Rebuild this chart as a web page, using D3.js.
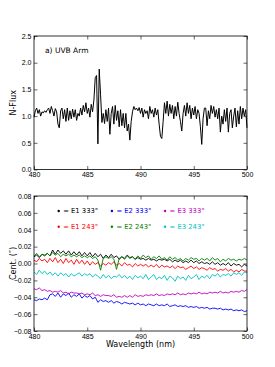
<!DOCTYPE html>
<html>
<head>
<meta charset="utf-8">
<script src="https://cdn.jsdelivr.net/npm/d3@7"></script>
<style>
  body { margin: 0; background: #fff; }
  svg { font-family: "DejaVu Sans", sans-serif; }
  .axis path { stroke: #000; stroke-width: 0.8; }
  .axis line { stroke: #000; stroke-width: 0.6; }
  .axis text { font-size: 7px; fill: #000; }
</style>
</head>
<body>
<script>
// wavelength grid (nm)
const waveFlux = d3.range(161).map(i => 480 + i * 0.125);
const waveCent = d3.range(81).map(i => 480 + i * 0.25);

// panel a) normalised flux
const flux = [
  0.98, 1.1, 1.15, 1.05, 1.12, 1.0, 1.08, 1.06,
  1.1, 1.07, 1.12, 1.15, 1.05, 1.18, 1.1, 1.0,
  1.14, 1.08, 0.85, 0.78, 1.1, 1.15, 0.95, 1.12,
  0.9, 1.15, 0.92, 1.1, 0.95, 1.13, 0.98, 1.12,
  0.92, 1.05, 1.0, 1.15, 1.02, 1.2, 1.08, 1.25,
  1.05, 1.15, 0.98, 1.22, 1.08, 1.3, 1.72, 1.76,
  0.48, 1.88, 1.4, 0.88, 1.05, 0.86, 1.12, 0.9,
  1.15, 0.66, 1.05, 1.18, 0.85, 1.2, 0.92, 1.1,
  0.8, 1.12, 0.82, 1.05, 0.78, 1.05, 0.72, 0.85,
  0.55, 0.9, 1.08, 1.18, 1.12, 1.15, 1.1, 1.16,
  1.05, 1.15, 0.98, 1.12, 1.05, 1.1, 0.95, 1.18,
  1.05, 1.12, 0.98, 1.15, 1.02, 1.12, 0.85, 0.62,
  0.58, 0.9, 1.25, 1.05, 1.28, 1.0, 1.22, 1.05,
  1.2, 0.95, 1.18, 1.0, 1.26, 1.05, 0.9, 0.72,
  1.05, 1.2, 1.0, 1.25, 1.05, 1.2, 0.95, 1.15,
  1.02, 1.18, 0.95, 1.12, 1.05, 0.8, 0.47, 0.95,
  1.15, 1.15, 0.82, 1.1, 0.95, 1.2, 1.05, 1.18,
  0.98, 1.12, 0.95, 1.15, 0.7, 1.0, 0.85, 1.12,
  0.9, 1.15, 0.7, 1.05, 1.12, 0.78, 1.0, 1.15,
  0.8, 1.1, 0.85, 1.18, 0.95, 1.15, 1.0, 1.12,
  0.78
];

// panel b) centroid offsets, in units of 0.001 arcsec
const e1_333 = [
  8, 10, 7, 11, 9, 12, 9, 16, 11, 16, 12, 15, 11, 15, 10, 14,
  10, 14, 9, 13, 9, 13, 8, 12, 8, 11, 6, 10, 7, 11, 7, 9,
  5, 8, 6, 10, 7, 8, 5, 7, 5, 6, 4, 6, 4, 5, 3, 5,
  4, 5, 3, 5, 2, 4, 2, 4, 1, 3, 1, 4, 1, 3, 0, 2,
  0, 1, -1, 2, -1, 1, -2, 0, -2, 1, -3, 0, -2, -1, -4, -1,
  -3
];
const e2_333 = [
  -43, -44, -42, -43, -41, -43, -37, -36, -39, -35, -40, -36, -38, -35, -40, -37,
  -39, -36, -41, -38, -40, -38, -42, -40, -46, -43, -45, -44, -46, -44, -47, -45,
  -46, -48, -46, -47, -48, -47, -49, -47, -49, -48, -50, -48, -49, -50, -48, -50,
  -49, -50, -48, -51, -50, -49, -51, -50, -51, -50, -52, -51, -52, -51, -53, -52,
  -53, -52, -54, -53, -53, -54, -53, -55, -54, -55, -54, -56, -55, -56, -55, -57,
  -56
];
const e3_333 = [
  -30, -31, -29, -32, -31, -33, -32, -34, -33, -34, -32, -35, -34, -36, -34, -35,
  -35, -36, -35, -37, -36, -37, -35, -38, -37, -39, -37, -38, -38, -39, -37, -40,
  -39, -40, -38, -40, -38, -40, -37, -39, -38, -39, -37, -38, -37, -38, -36, -38,
  -37, -38, -36, -37, -36, -37, -35, -37, -36, -37, -35, -36, -35, -36, -34, -36,
  -35, -36, -34, -35, -34, -35, -33, -35, -34, -35, -33, -34, -33, -34, -32, -33,
  -31
];
const e1_243 = [
  4, 2, 6, 3, 5, 1, 6, 2, 7, 1, 5, 0, 6, 1, 4, -1,
  5, 0, 4, -1, 3, -2, 2, -1, 1, -3, 0, -2, 1, -1, 2, -2,
  0, -3, 1, -2, -1, -4, 0, -3, -1, -3, -1, -4, -2, -4, -1, -5,
  -2, -4, -3, -5, -3, -6, -3, -5, -4, -7, -5, -3, -6, -4, -7, -5,
  -6, -8, -5, -7, -6, -9, -7, -8, -6, -9, -7, -10, -8, -10, -7, -9,
  -9
];
const e2_243 = [
  9, 12, 8, 11, 10, 12, 9, 13, 10, 12, 8, 11, 9, 11, 8, 10,
  8, 10, 7, 9, 7, 9, 6, 8, 4, -8, 6, 8, 6, 8, 5, -7,
  6, 8, 5, 9, 6, 8, 5, 9, 6, 10, 7, 9, 5, 8, 6, 9,
  5, 7, 4, 8, 5, 7, 4, 6, 3, 6, 4, 7, 5, 6, 3, 6,
  4, 6, 3, 7, 4, 6, 2, 5, 3, 6, 4, 5, 3, 5, 4, 6,
  4
];
const e3_243 = [
  -10, -13, -8, -12, -9, -13, -10, -14, -11, -15, -11, -14, -12, -16, -12, -15,
  -13, -11, -15, -12, -14, -12, -16, -13, -15, -18, -13, -17, -14, -18, -15, -16,
  -13, -17, -14, -18, -15, -19, -14, -17, -15, -18, -13, -19, -16, -13, -19, -16,
  -18, -14, -20, -15, -17, -21, -15, -18, -16, -20, -14, -18, -16, -13, -19, -15,
  -17, -14, -18, -13, -15, -12, -16, -13, -14, -12, -15, -11, -13, -11, -14, -10,
  -11
];

const seriesNames = ["E1 333°", "E2 333°", "E3 333°", "E1 243°", "E2 243°", "E3 243°"];
const seriesData = [e1_333, e2_333, e3_333, e1_243, e2_243, e3_243];
const seriesColors = ["#000000", "#0000ff", "#bf00bf", "#ff0000", "#008000", "#00bfbf"];

const width = 275, height = 367;
const left = 34, right = 247;

const svg = d3.select("body").append("svg")
  .attr("width", width)
  .attr("height", height);

const x = d3.scaleLinear().domain([480, 500]).range([left, right]);
const yFlux = d3.scaleLinear().domain([0, 2.5]).range([169.5, 36]);
const yCent = d3.scaleLinear().domain([-0.08, 0.08]).range([331, 196]);

const fmt2 = d3.format(".2f");
const fmtCent = d => fmt2(d).replace("-", "\u2212");

function drawAxes(y, yTicks, yFmt, top, bottom) {
  const g = svg.append("g");
  g.append("g").attr("class", "axis")
    .attr("transform", `translate(0,${bottom})`)
    .call(d3.axisBottom(x).tickValues(d3.range(480, 501, 5)).tickSize(-3.5).tickPadding(3).tickFormat(d3.format("d")))
    .call(a => a.select(".domain").remove());
  g.append("g").attr("class", "axis")
    .attr("transform", `translate(0,${top})`)
    .call(d3.axisTop(x).tickValues(d3.range(480, 501, 5)).tickSize(-3.5).tickFormat(""))
    .call(a => a.select(".domain").remove());
  g.append("g").attr("class", "axis")
    .attr("transform", `translate(${left},0)`)
    .call(d3.axisLeft(y).tickValues(yTicks).tickSize(-3.5).tickPadding(2.5).tickFormat(yFmt))
    .call(a => a.select(".domain").remove());
  g.append("g").attr("class", "axis")
    .attr("transform", `translate(${right},0)`)
    .call(d3.axisRight(y).tickValues(yTicks).tickSize(-3.5).tickFormat(""))
    .call(a => a.select(".domain").remove());
  svg.append("rect")
    .attr("x", left).attr("y", top)
    .attr("width", right - left).attr("height", bottom - top)
    .attr("fill", "none").attr("stroke", "#000").attr("stroke-width", 0.8);
}

// panel a
const fluxLine = d3.line().x((d, i) => x(waveFlux[i])).y(d => yFlux(d));
svg.append("path")
  .datum(flux)
  .attr("d", fluxLine)
  .attr("fill", "none")
  .attr("stroke", "#000")
  .attr("stroke-width", 1)
  .attr("stroke-linejoin", "round");

drawAxes(yFlux, [0, 0.5, 1, 1.5, 2, 2.5], d3.format(".1f"), 36, 169.5);

svg.append("text")
  .attr("x", 45).attr("y", 53)
  .attr("font-size", 7.5)
  .text("a) UVB Arm");

svg.append("text")
  .attr("transform", `translate(16,${(36 + 169.5) / 2}) rotate(-90)`)
  .attr("text-anchor", "middle")
  .attr("font-size", 8)
  .text("N-Flux");

// panel b
const centLine = d3.line().x((d, i) => x(waveCent[i])).y(d => yCent(d / 1000));
svg.append("g").selectAll("path")
  .data(seriesData)
  .join("path")
  .attr("d", centLine)
  .attr("fill", "none")
  .attr("stroke", (d, i) => seriesColors[i])
  .attr("stroke-width", 0.9)
  .attr("stroke-linejoin", "round");

drawAxes(yCent, d3.range(-0.08, 0.081, 0.02), fmtCent, 196, 331);

svg.append("text")
  .attr("transform", `translate(16,${(196 + 331) / 2}) rotate(-90)`)
  .attr("text-anchor", "middle")
  .attr("font-size", 8)
  .text("Cent. (\u2033)");

svg.append("text")
  .attr("x", (left + right) / 2).attr("y", 347)
  .attr("text-anchor", "middle")
  .attr("font-size", 8)
  .text("Wavelength (nm)");

// legend
const legend = svg.append("g").attr("font-size", 6.8);
seriesNames.forEach((name, i) => {
  const lx = 58.7 + (i % 3) * 53.2;
  const ly = 211 + Math.floor(i / 3) * 15.7;
  legend.append("circle")
    .attr("cx", lx).attr("cy", ly).attr("r", 1.2)
    .attr("fill", seriesColors[i]);
  legend.append("text")
    .attr("x", lx + 4.5).attr("y", ly + 2.4)
    .attr("fill", seriesColors[i])
    .text("= " + name);
});
</script>
</body>
</html>
